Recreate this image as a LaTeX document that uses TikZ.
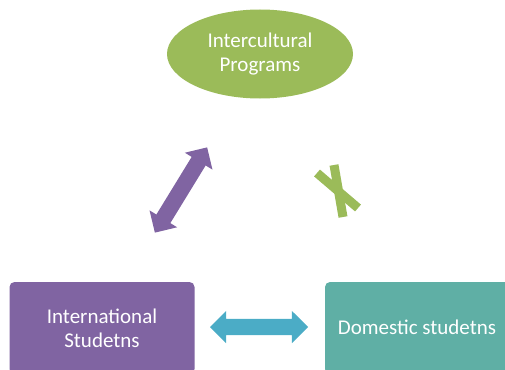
\documentclass[tikz,border=0pt]{standalone}
\usepackage{fontspec}
\setmainfont{Carlito}
\usetikzlibrary{shapes.arrows, shapes.geometric}
\definecolor{progGreen}{HTML}{9BBB59}
\definecolor{intlPurple}{HTML}{8064A2}
\definecolor{domTeal}{HTML}{5FAFA5}
\definecolor{linkBlue}{HTML}{4BACC6}
\tikzset{
  group/.style={text=white, align=center, font=\fontsize{21}{24}\selectfont},
  link/.style={double arrow, inner xsep=0pt, inner ysep=8pt, double arrow head extend=8pt},
  cross/.style={draw=progGreen, line width=9pt}
}

\begin{document}
\begin{tikzpicture}[x=1pt, y=-1pt]
		   \useasboundingbox (0, 0) rectangle (505, 369);
		   \node[group, ellipse, fill=progGreen, minimum width=186pt, minimum height=89pt, inner sep=0pt] (prog) at (260, 54) {Intercultural\\Programs};
		   \node[group, rounded corners=5pt, fill=intlPurple, minimum width=185pt, minimum height=92pt, inner sep=0pt] (intl) at (102, 328) {International\\Studetns};
		   \node[group, rounded corners=5pt, fill=domTeal, minimum width=186pt, minimum height=92pt, inner sep=0pt] (dom) at (418, 328) {};
		   \node[group] (domtext) at (417, 327) {Domestic studetns};
		   \node[link, fill=intlPurple, minimum height=100pt, rotate=58.5] (a1) at (181, 190) {};
		   \node[link, fill=linkBlue, minimum height=98pt] (a2) at (259, 327) {};
		   \coordinate (x1) at (317, 173);
		   \coordinate (x2) at (358, 208);
		   \coordinate (x3) at (334, 165);
		   \coordinate (x4) at (343, 217);
		   \draw[cross] (x1) -- (x2);
		   \draw[cross] (x3) -- (x4);
	   \end{tikzpicture}
\end{document}
